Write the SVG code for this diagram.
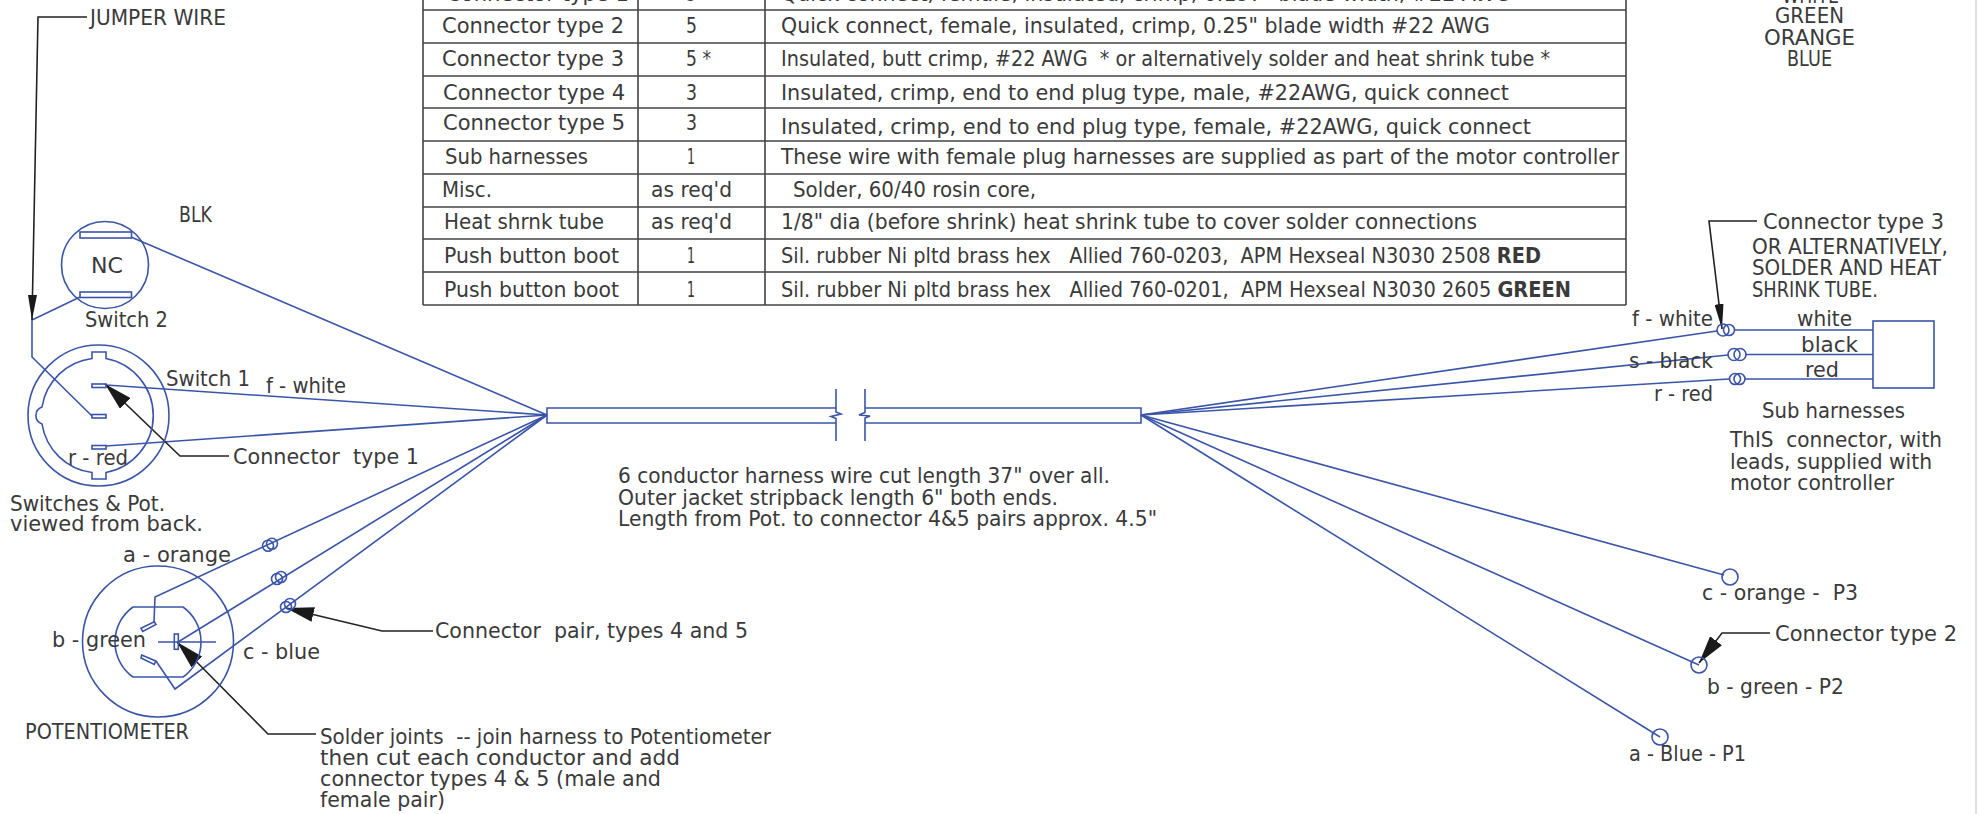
<svg xmlns="http://www.w3.org/2000/svg" width="1979" height="814" viewBox="0 0 1979 814">
<style>
text{font-family:"DejaVu Sans","Liberation Sans",sans-serif;font-size:21px;fill:#3a3a3a;white-space:pre}
.b{fill:none;stroke:#3a55a8;stroke-width:1.6}
.l{fill:none;stroke:#222;stroke-width:1.6}
.t{fill:none;stroke:#444;stroke-width:1.6}
</style>
<defs>
<marker id="arrow" markerUnits="userSpaceOnUse" markerWidth="28" markerHeight="15" viewBox="0 0 28 15" refX="28" refY="7.5" orient="auto"><path d="M0,0L28,7.5L0,15Z" fill="#1a1a1a"/></marker>
<marker id="arrowThin" markerUnits="userSpaceOnUse" markerWidth="25" markerHeight="9" viewBox="0 0 25 9" refX="25" refY="4.5" orient="auto"><path d="M0,0L25,4.5L0,9Z" fill="#1a1a1a"/></marker>
</defs>
<rect width="1979" height="814" fill="#fff"/>
<line x1="1976" y1="0" x2="1976" y2="814" stroke="#d4d4d4" stroke-width="1.5"/>

<g id="parts-table">
<path class="t" d="M423,0V305M638,0V305M765,0V305M1626,0V305M423,10H1626M423,43H1626M423,76H1626M423,108H1626M423,141H1626M423,174H1626M423,207H1626M423,239H1626M423,272H1626M423,305H1626"/>
<text x="446" y="1" textLength="183" lengthAdjust="spacingAndGlyphs">Connector type 1</text>
<text x="686" y="1" textLength="11" lengthAdjust="spacingAndGlyphs">5</text>
<text x="781" y="1" textLength="730" lengthAdjust="spacingAndGlyphs">Quick connect, female, insulated, crimp, 0.197" blade width, #22 AWG</text>
<text x="442" y="33" textLength="182" lengthAdjust="spacingAndGlyphs">Connector type 2</text>
<text x="686" y="33" textLength="11" lengthAdjust="spacingAndGlyphs">5</text>
<text x="781" y="33" textLength="709" lengthAdjust="spacingAndGlyphs">Quick connect, female, insulated, crimp, 0.25" blade width #22 AWG</text>
<text x="442" y="66" textLength="182" lengthAdjust="spacingAndGlyphs">Connector type 3</text>
<text x="686" y="66" textLength="25" lengthAdjust="spacingAndGlyphs">5 *</text>
<text x="781" y="66" textLength="769" lengthAdjust="spacingAndGlyphs">Insulated, butt crimp, #22 AWG  * or alternatively solder and heat shrink tube *</text>
<text x="443" y="100" textLength="182" lengthAdjust="spacingAndGlyphs">Connector type 4</text>
<text x="686" y="100" textLength="11" lengthAdjust="spacingAndGlyphs">3</text>
<text x="781" y="100" textLength="728" lengthAdjust="spacingAndGlyphs">Insulated, crimp, end to end plug type, male, #22AWG, quick connect</text>
<text x="443" y="130" textLength="182" lengthAdjust="spacingAndGlyphs">Connector type 5</text>
<text x="686" y="130" textLength="11" lengthAdjust="spacingAndGlyphs">3</text>
<text x="781" y="134" textLength="750" lengthAdjust="spacingAndGlyphs">Insulated, crimp, end to end plug type, female, #22AWG, quick connect</text>
<text x="445" y="164" textLength="143" lengthAdjust="spacingAndGlyphs">Sub harnesses</text>
<text x="687" y="164" textLength="8" lengthAdjust="spacingAndGlyphs">1</text>
<text x="781" y="164" textLength="838" lengthAdjust="spacingAndGlyphs">These wire with female plug harnesses are supplied as part of the motor controller</text>
<text x="442" y="197" textLength="50" lengthAdjust="spacingAndGlyphs">Misc.</text>
<text x="651" y="197" textLength="81" lengthAdjust="spacingAndGlyphs">as req'd</text>
<text x="793" y="197" textLength="243" lengthAdjust="spacingAndGlyphs">Solder, 60/40 rosin core,</text>
<text x="444" y="229" textLength="160" lengthAdjust="spacingAndGlyphs">Heat shrnk tube</text>
<text x="651" y="229" textLength="81" lengthAdjust="spacingAndGlyphs">as req'd</text>
<text x="781" y="229" textLength="696" lengthAdjust="spacingAndGlyphs">1/8" dia (before shrink) heat shrink tube to cover solder connections</text>
<text x="444" y="263" textLength="175" lengthAdjust="spacingAndGlyphs">Push button boot</text>
<text x="687" y="263" textLength="8" lengthAdjust="spacingAndGlyphs">1</text>
<text x="781" y="263" textLength="760" lengthAdjust="spacingAndGlyphs">Sil. rubber Ni pltd brass hex   Allied 760-0203,  APM Hexseal N3030 2508 <tspan font-weight="700">RED</tspan></text>
<text x="444" y="297" textLength="175" lengthAdjust="spacingAndGlyphs">Push button boot</text>
<text x="687" y="297" textLength="8" lengthAdjust="spacingAndGlyphs">1</text>
<text x="781" y="297" textLength="790" lengthAdjust="spacingAndGlyphs">Sil. rubber Ni pltd brass hex   Allied 760-0201,  APM Hexseal N3030 2605 <tspan font-weight="700">GREEN</tspan></text>
</g>

<g id="color-list">
<text x="1782" y="3" textLength="57" lengthAdjust="spacingAndGlyphs">WHITE</text>
<text x="1775" y="23" textLength="69" lengthAdjust="spacingAndGlyphs">GREEN</text>
<text x="1764" y="45" textLength="91" lengthAdjust="spacingAndGlyphs">ORANGE</text>
<text x="1787" y="66" textLength="45" lengthAdjust="spacingAndGlyphs">BLUE</text>
</g>

<g id="connectors">
<path class="b" d="M131,237L547,415"/>
<path class="b" d="M80,297L32,320V357L92,416"/>
<path class="b" d="M106,385L547,415"/>
<path class="b" d="M106,446L547,415"/>
<path class="b" d="M154,622L155,597L547,415"/>
<path class="b" d="M178,642L547,415"/>
<path class="b" d="M156,661L175,689L547,415"/>
<path class="b" d="M1141,415L1717,331"/>
<path class="b" d="M1141,415L1728,355"/>
<path class="b" d="M1141,415L1729,379"/>
<path class="b" d="M1141,415L1724,575"/>
<path class="b" d="M1141,415L1699,665"/>
<path class="b" d="M1141,415L1660,737"/>
<path class="b" d="M1735,330H1873M1746,354.5H1873M1745,379H1873"/>
<path class="l" d="M87,17H38L32,320" marker-end="url(#arrowThin)"/>
<path class="l" d="M229,456H180L105,384" marker-end="url(#arrow)"/>
<path class="l" d="M433,631H382L286,608" marker-end="url(#arrow)"/>
<path class="l" d="M316,734H268L177,642" marker-end="url(#arrow)"/>
<path class="l" d="M1757,221H1709L1722,329" marker-end="url(#arrowThin)"/>
<path class="l" d="M1770,633H1722L1699,663" marker-end="url(#arrow)"/>
</g>

<g id="switch-2">
<circle class="b" cx="105" cy="265" r="43.5"/>
<rect class="b" x="80" y="232" width="51.5" height="6"/>
<rect class="b" x="80" y="292" width="51.5" height="5.5"/>
<text x="91" y="273" textLength="32" lengthAdjust="spacingAndGlyphs">NC</text>
<text x="85" y="327" textLength="83" lengthAdjust="spacingAndGlyphs">Switch 2</text>
<text x="179" y="222" textLength="33" lengthAdjust="spacingAndGlyphs">BLK</text>
</g>

<g id="switch-1">
<circle class="b" cx="98.5" cy="415.5" r="70.5"/>
<path class="b" d="M92,358.5V352H106V358.5A58,58 0 0 1 106,472.5V479H92V472.5A58,58 0 0 1 42,424A9,9 0 0 1 42,407A58,58 0 0 1 92,358.5Z"/>
<rect class="b" x="92" y="384" width="14" height="3.5"/>
<rect class="b" x="92" y="414.5" width="14" height="3.5"/>
<rect class="b" x="92" y="445.5" width="14" height="3.5"/>
<text x="166" y="386" textLength="84" lengthAdjust="spacingAndGlyphs">Switch 1</text>
<text x="266" y="393" textLength="80" lengthAdjust="spacingAndGlyphs">f - white</text>
<text x="233" y="464" textLength="186" lengthAdjust="spacingAndGlyphs">Connector  type 1</text>
<text x="68" y="465" textLength="60" lengthAdjust="spacingAndGlyphs">r - red</text>
<text x="10" y="511" textLength="155" lengthAdjust="spacingAndGlyphs">Switches &amp; Pot.</text>
<text x="10" y="531" textLength="193" lengthAdjust="spacingAndGlyphs">viewed from back.</text>
</g>

<g id="potentiometer">
<circle class="b" cx="158" cy="641.5" r="75.5"/>
<path class="b" d="M133,607H183A43,43 0 0 1 183,677H133A43,43 0 0 1 133,607Z"/>
<path class="b" d="M141,628.3L154.3,621.7L156,624.5L142.7,631.5Z"/>
<path class="b" d="M141.7,655L155.7,661L154.3,664.5L141,658Z"/>
<rect class="b" x="174.3" y="634" width="4" height="15.3"/>
<path class="b" d="M158,642H216"/>
<text x="123" y="562" textLength="108" lengthAdjust="spacingAndGlyphs">a - orange</text>
<text x="52" y="647" textLength="94" lengthAdjust="spacingAndGlyphs">b - green</text>
<text x="243" y="659" textLength="77" lengthAdjust="spacingAndGlyphs">c - blue</text>
<text x="25" y="739" textLength="164" lengthAdjust="spacingAndGlyphs">POTENTIOMETER</text>
</g>

<g id="pairs-4-5">
<circle class="b" cx="268" cy="545.7" r="5.5"/><circle class="b" cx="272" cy="543.7" r="5.5"/>
<circle class="b" cx="277" cy="579" r="5.5"/><circle class="b" cx="281" cy="577" r="5.5"/>
<circle class="b" cx="286" cy="607" r="5.5"/><circle class="b" cx="290" cy="604" r="5.5"/>
<text x="435" y="638" textLength="313" lengthAdjust="spacingAndGlyphs">Connector  pair, types 4 and 5</text>
</g>

<g id="solder-note">
<text x="320" y="744" textLength="451" lengthAdjust="spacingAndGlyphs">Solder joints  -- join harness to Potentiometer</text>
<text x="320" y="765" textLength="360" lengthAdjust="spacingAndGlyphs">then cut each conductor and add</text>
<text x="320" y="786" textLength="341" lengthAdjust="spacingAndGlyphs">connector types 4 &amp; 5 (male and</text>
<text x="320" y="807" textLength="125" lengthAdjust="spacingAndGlyphs">female pair)</text>
</g>

<g id="harness">
<path class="b" d="M836,389V412L841,414L831,416.5L836,418.5V441"/>
<path class="b" d="M865,389V412.5L859,415L870,416L865,418V441"/>
<path class="b" d="M836,408H547V423H836"/>
<path class="b" d="M865,408H1141V423H865"/>
<text x="618" y="483" textLength="492" lengthAdjust="spacingAndGlyphs">6 conductor harness wire cut length 37" over all.</text>
<text x="618" y="505" textLength="440" lengthAdjust="spacingAndGlyphs">Outer jacket stripback length 6" both ends.</text>
<text x="618" y="526" textLength="539" lengthAdjust="spacingAndGlyphs">Length from Pot. to connector 4&amp;5 pairs approx. 4.5"</text>
</g>

<g id="jumper-label">
<text x="90" y="25" textLength="136" lengthAdjust="spacingAndGlyphs">JUMPER WIRE</text>
</g>

<g id="sub-harness">
<rect class="b" x="1873" y="321" width="61" height="67"/>
<circle class="b" cx="1723" cy="330" r="6"/><circle class="b" cx="1729" cy="330" r="5.5"/>
<circle class="b" cx="1734" cy="354.5" r="6"/><circle class="b" cx="1740" cy="354.5" r="6"/>
<circle class="b" cx="1735" cy="379" r="5.5"/><circle class="b" cx="1739.5" cy="379" r="5.5"/>
<text x="1797" y="326" textLength="55" lengthAdjust="spacingAndGlyphs">white</text>
<text x="1801" y="352" textLength="57" lengthAdjust="spacingAndGlyphs">black</text>
<text x="1805" y="377" textLength="34" lengthAdjust="spacingAndGlyphs">red</text>
<text x="1632" y="326" textLength="81" lengthAdjust="spacingAndGlyphs">f - white</text>
<text x="1629" y="368" textLength="84" lengthAdjust="spacingAndGlyphs">s - black</text>
<text x="1654" y="401" textLength="59" lengthAdjust="spacingAndGlyphs">r - red</text>
<text x="1763" y="229" textLength="181" lengthAdjust="spacingAndGlyphs">Connector type 3</text>
<text x="1752" y="254" textLength="196" lengthAdjust="spacingAndGlyphs">OR ALTERNATIVELY,</text>
<text x="1752" y="275" textLength="189" lengthAdjust="spacingAndGlyphs">SOLDER AND HEAT</text>
<text x="1752" y="297" textLength="126" lengthAdjust="spacingAndGlyphs">SHRINK TUBE.</text>
<text x="1762" y="418" textLength="143" lengthAdjust="spacingAndGlyphs">Sub harnesses</text>
<text x="1730" y="447" textLength="212" lengthAdjust="spacingAndGlyphs">ThIS  connector, with</text>
<text x="1730" y="469" textLength="202" lengthAdjust="spacingAndGlyphs">leads, supplied with</text>
<text x="1730" y="490" textLength="164" lengthAdjust="spacingAndGlyphs">motor controller</text>
</g>

<g id="pin-p3">
<circle class="b" cx="1730" cy="577" r="8"/>
<text x="1702" y="600" textLength="156" lengthAdjust="spacingAndGlyphs">c - orange -  P3</text>
</g>
<g id="pin-p2">
<circle class="b" cx="1699" cy="665" r="8"/>
<text x="1775" y="641" textLength="182" lengthAdjust="spacingAndGlyphs">Connector type 2</text>
<text x="1707" y="694" textLength="137" lengthAdjust="spacingAndGlyphs">b - green - P2</text>
</g>
<g id="pin-p1">
<circle class="b" cx="1660" cy="737" r="8"/>
<text x="1629" y="761" textLength="117" lengthAdjust="spacingAndGlyphs">a - Blue - P1</text>
</g>
</svg>
